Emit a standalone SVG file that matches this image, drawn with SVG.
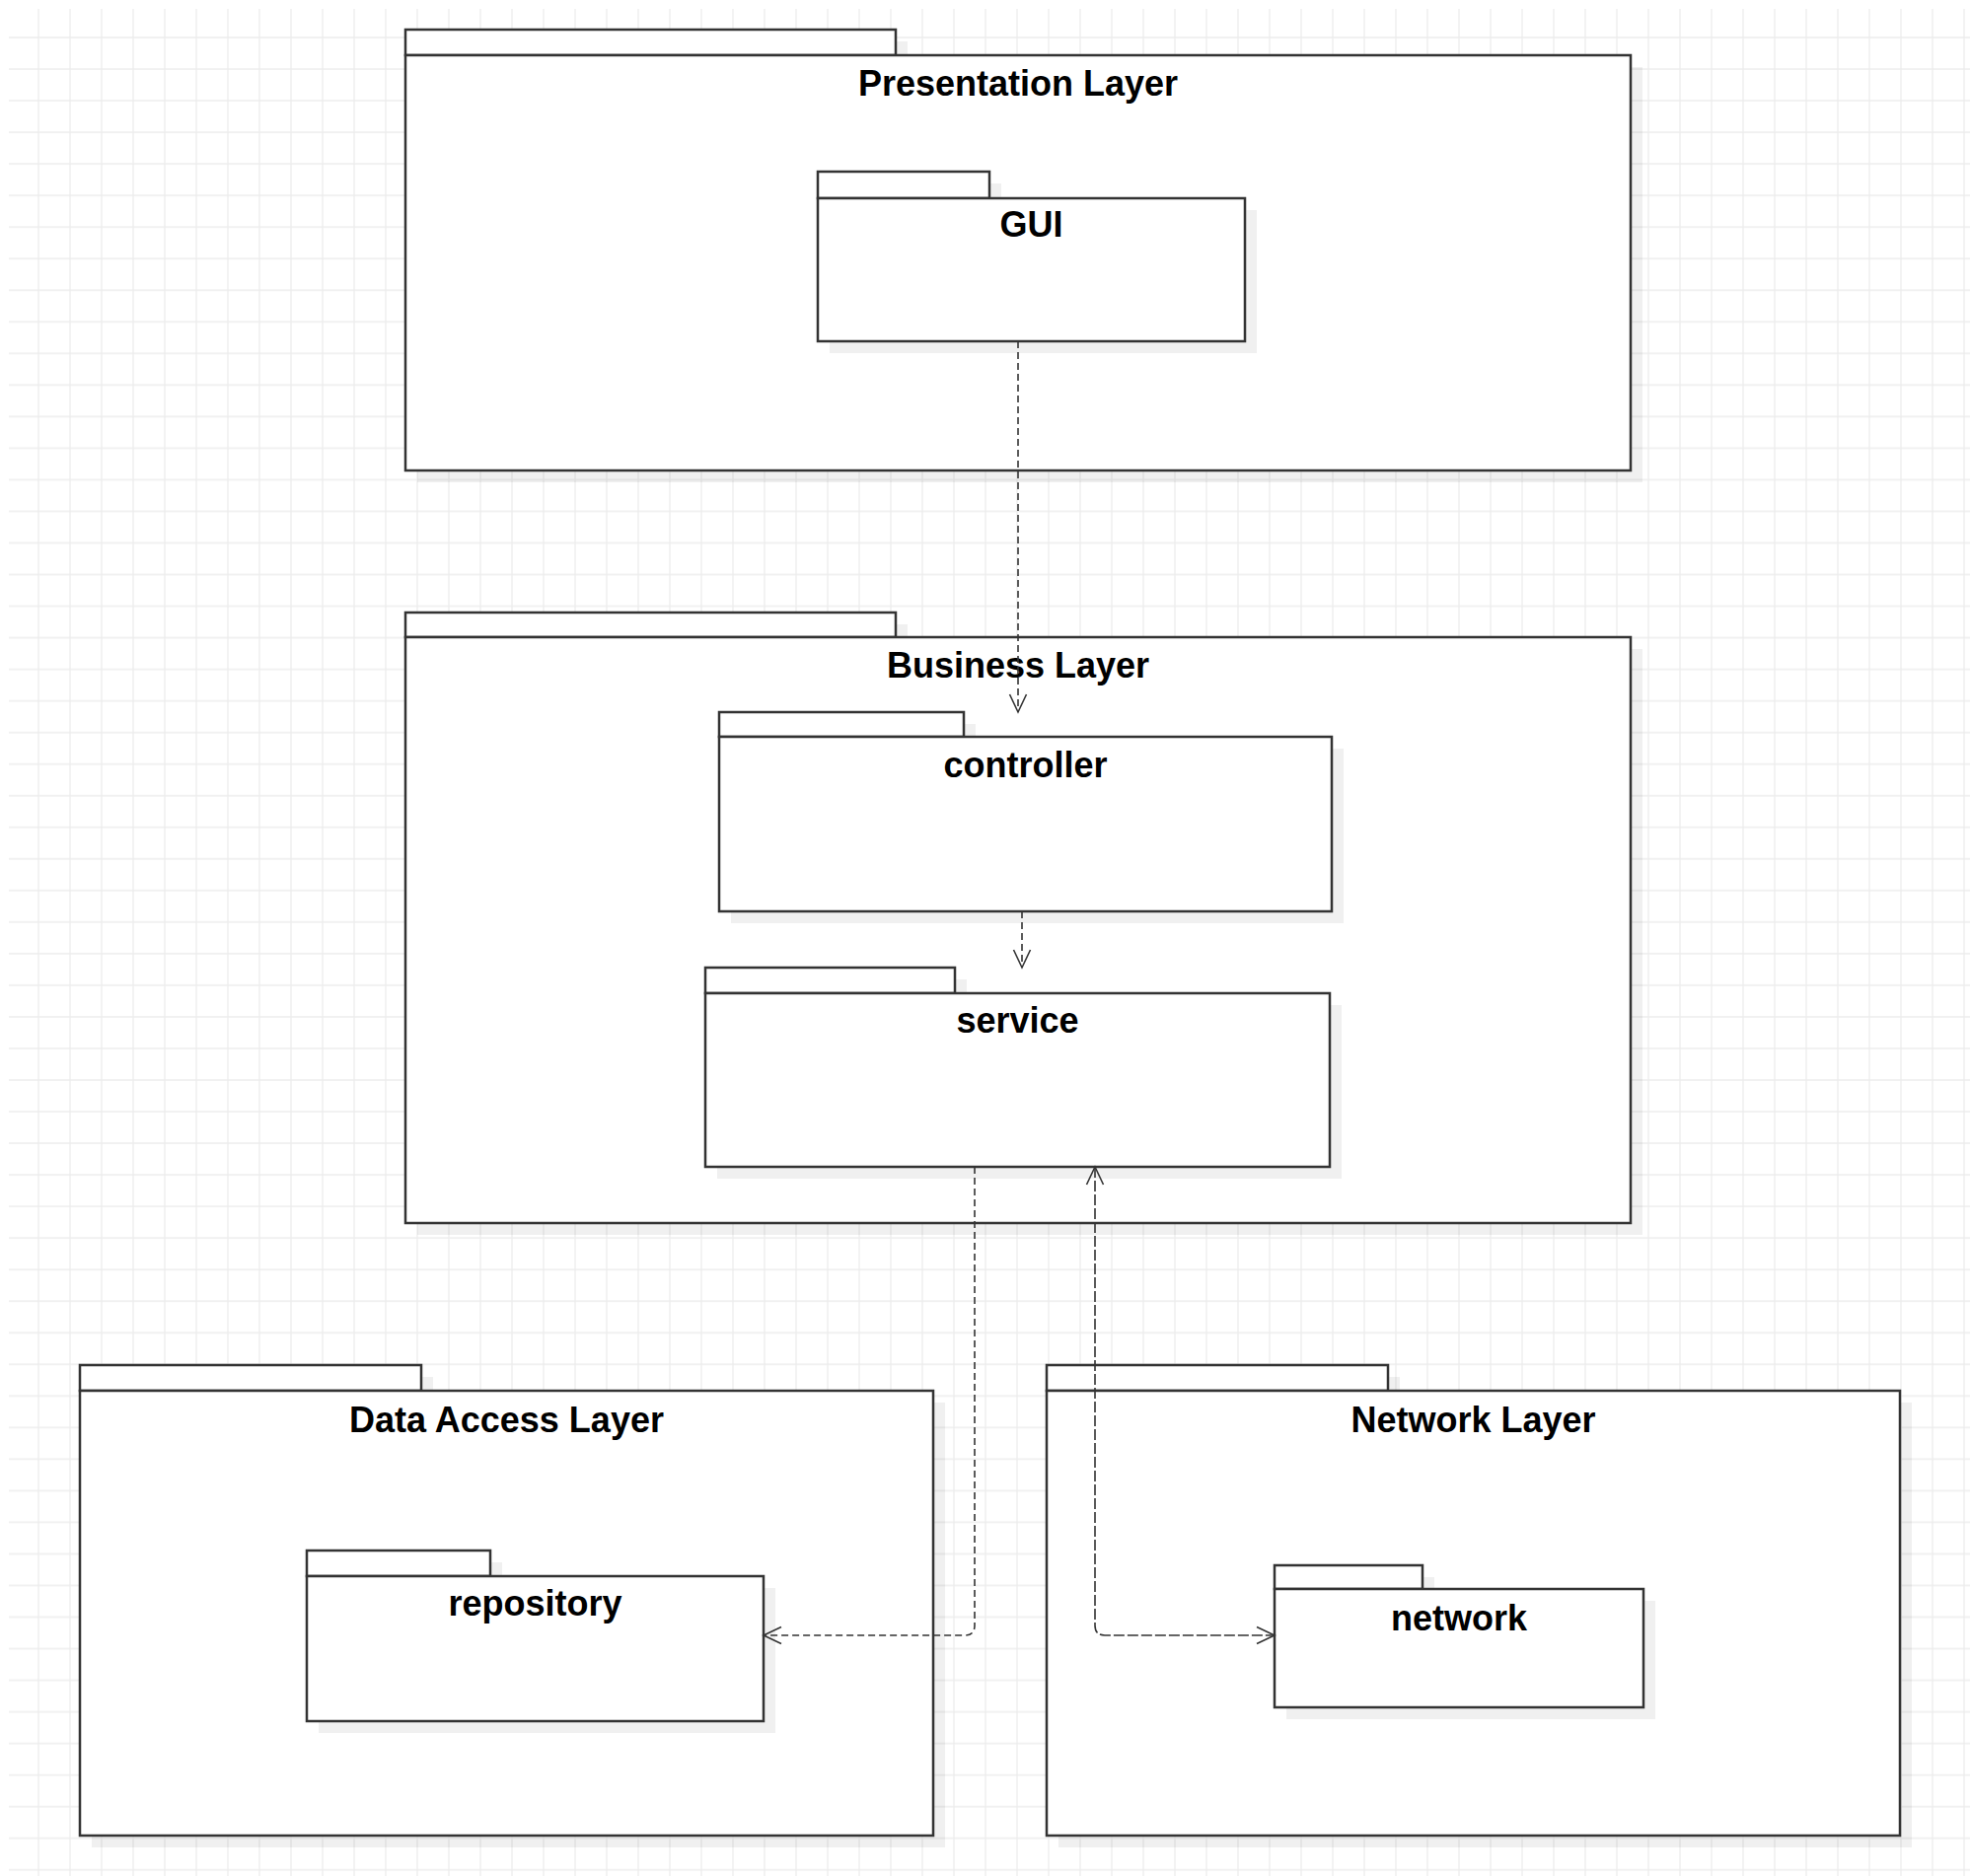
<svg xmlns="http://www.w3.org/2000/svg" width="1997" height="1902" viewBox="0 0 1997 1902">
<defs>
<pattern id="grid" patternUnits="userSpaceOnUse" x="6" y="5" width="32" height="32.03">
<path d="M1 0V32.03M0 1H32" fill="none" stroke="#ededed" stroke-width="1.3"/>
</pattern>
<marker id="open" viewBox="-20 -11 22 22" refX="0" refY="0" markerWidth="22" markerHeight="22" markerUnits="userSpaceOnUse" orient="auto-start-reverse">
<path d="M-18,-8.5 L0,0 L-18,8.5" fill="none" stroke="#333" stroke-width="1.6"/>
</marker>
</defs>
<style>
.sh{fill:#000;fill-opacity:0.06;stroke:none}
.tab,.body{fill:#fff;stroke:#333;stroke-width:2.5}
.lbl{font-family:"Liberation Sans",Arial,Helvetica,sans-serif;font-weight:bold;font-size:36px;fill:#000;text-anchor:middle}
.dep{fill:none;stroke:#333;stroke-width:1.6;stroke-dasharray:7 4}
.dep2{stroke-dasharray:11 3}
</style>
<rect x="0" y="0" width="1997" height="1902" fill="#fff"/>
<rect x="9" y="9" width="1988" height="1893" fill="url(#grid)"/>

<g id="presentation-layer">
<rect class="sh" x="423" y="42" width="497" height="26"/>
<rect class="sh" x="423" y="68" width="1242" height="421"/>
<rect class="tab" x="411" y="30" width="497" height="26"/>
<rect class="body" x="411" y="56" width="1242" height="421"/>
<text class="lbl" x="1032" y="97">Presentation Layer</text>
</g>

<g id="gui">
<rect class="sh" x="841" y="186" width="174" height="27"/>
<rect class="sh" x="841" y="213" width="433" height="145"/>
<rect class="tab" x="829" y="174" width="174" height="27"/>
<rect class="body" x="829" y="201" width="433" height="145"/>
<text class="lbl" x="1045.5" y="240">GUI</text>
</g>

<g id="business-layer">
<rect class="sh" x="423" y="633" width="497" height="25"/>
<rect class="sh" x="423" y="658" width="1242" height="594"/>
<rect class="tab" x="411" y="621" width="497" height="25"/>
<rect class="body" x="411" y="646" width="1242" height="594"/>
<text class="lbl" x="1032" y="687">Business Layer</text>
</g>

<g id="controller">
<rect class="sh" x="741" y="734" width="248" height="25"/>
<rect class="sh" x="741" y="759" width="621" height="177"/>
<rect class="tab" x="729" y="722" width="248" height="25"/>
<rect class="body" x="729" y="747" width="621" height="177"/>
<text class="lbl" x="1039.5" y="788">controller</text>
</g>

<g id="service">
<rect class="sh" x="727" y="993" width="253" height="26"/>
<rect class="sh" x="727" y="1019" width="633" height="176"/>
<rect class="tab" x="715" y="981" width="253" height="26"/>
<rect class="body" x="715" y="1007" width="633" height="176"/>
<text class="lbl" x="1031.5" y="1047">service</text>
</g>

<g id="data-access-layer">
<rect class="sh" x="93" y="1396" width="346" height="26"/>
<rect class="sh" x="93" y="1422" width="865" height="451"/>
<rect class="tab" x="81" y="1384" width="346" height="26"/>
<rect class="body" x="81" y="1410" width="865" height="451"/>
<text class="lbl" x="513.5" y="1451.5">Data Access Layer</text>
</g>

<g id="repository">
<rect class="sh" x="323" y="1584" width="186" height="26"/>
<rect class="sh" x="323" y="1610" width="463" height="147"/>
<rect class="tab" x="311" y="1572" width="186" height="26"/>
<rect class="body" x="311" y="1598" width="463" height="147"/>
<text class="lbl" x="542.5" y="1638">repository</text>
</g>

<g id="network-layer">
<rect class="sh" x="1073" y="1396" width="346" height="26"/>
<rect class="sh" x="1073" y="1422" width="865" height="451"/>
<rect class="tab" x="1061" y="1384" width="346" height="26"/>
<rect class="body" x="1061" y="1410" width="865" height="451"/>
<text class="lbl" x="1493.5" y="1451.5">Network Layer</text>
</g>

<g id="network">
<rect class="sh" x="1304" y="1599" width="150" height="24"/>
<rect class="sh" x="1304" y="1623" width="374" height="120"/>
<rect class="tab" x="1292" y="1587" width="150" height="24"/>
<rect class="body" x="1292" y="1611" width="374" height="120"/>
<text class="lbl" x="1479" y="1653">network</text>
</g>

<g id="connectors">
<path class="dep" d="M1032,346 V722" marker-end="url(#open)"/>
<path class="dep" d="M1036,924 V981" marker-end="url(#open)"/>
<path class="dep" d="M988,1183 V1648 Q988,1658 978,1658 H774" marker-end="url(#open)"/>
<path class="dep dep2" d="M1110,1183 V1648 Q1110,1658 1120,1658 H1292" marker-start="url(#open)" marker-end="url(#open)"/>
</g>
</svg>
